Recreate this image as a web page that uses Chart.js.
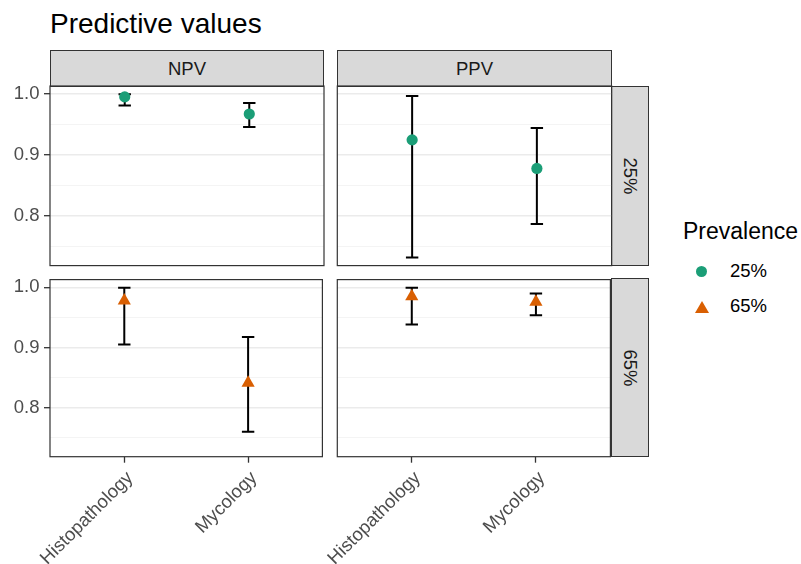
<!DOCTYPE html>
<html>
<head>
<meta charset="utf-8">
<script src="https://cdn.jsdelivr.net/npm/chart.js@4.4.1/dist/chart.umd.min.js"></script>
<style>
body { margin: 0; background: #fff; font-family: "Liberation Sans", Arial, sans-serif; }
#fig { position: relative; width: 801px; height: 564px; overflow: hidden; background: #fff; }
#fig canvas { position: absolute; }
.txt { position: absolute; white-space: nowrap; }
.strip { position: absolute; background: #D9D9D9; border: 1px solid #333; box-sizing: border-box;
  color: #1A1A1A; font-size: 18.5px; display: flex; align-items: center; justify-content: center; }
.strip.right span { transform: rotate(90deg); white-space: nowrap; }
</style>
</head>
<body>
<div id="fig">
  <div class="txt" style="left:50px; top:9.6px; font-size:28px; line-height:28px; color:#000;">Predictive values</div>

  <div class="strip" style="left:50px; top:50px; width:274px; height:37px;">NPV</div>
  <div class="strip" style="left:337px; top:50px; width:275px; height:37px;">PPV</div>
  <div class="strip right" style="left:611px; top:86px; width:38px; height:180px;"><span>25%</span></div>
  <div class="strip right" style="left:611px; top:278px; width:38px; height:179px;"><span>65%</span></div>

  <canvas id="npv25" width="330" height="192" style="left:0px; top:80px;"></canvas>
  <canvas id="ppv25" width="287" height="192" style="left:331px; top:80px;"></canvas>
  <canvas id="npv65" width="330" height="292" style="left:0px; top:272px;"></canvas>
  <canvas id="ppv65" width="418" height="292" style="left:200px; top:272px;"></canvas>

  <div class="txt" style="left:683px; top:219.5px; font-size:23px; line-height:23px; color:#000;">Prevalence</div>
  <div style="position:absolute; left:696.2px; top:265.5px; width:11px; height:11px; border-radius:50%; background:#1B9E77;"></div>
  <div class="txt" style="left:730px; top:262.4px; font-size:18.5px; line-height:18.5px; color:#000;">25%</div>
  <div style="position:absolute; left:694.7px; top:300.5px; width:0; height:0; border-left:7px solid transparent; border-right:7px solid transparent; border-bottom:12px solid #D95F02;"></div>
  <div class="txt" style="left:730px; top:297.4px; font-size:18.5px; line-height:18.5px; color:#000;">65%</div>
</div>

<script>
Chart.defaults.font.family = '"Liberation Sans", Arial, sans-serif'
Chart.defaults.font.size = 18.5
Chart.defaults.color = "#4D4D4D"

var categories = ["Histopathology", "Mycology"]
var yTicks = [0.75, 0.8, 0.85, 0.9, 0.95, 1.0]
var yMajor = [0.8, 0.9, 1.0]
var yMin = 0.7183
var yMax = 1.0129

// estimate, lower and upper limit per test
var npv25 = [0.995, 0.967]
var npv25Low = [0.981, 0.9455]
var npv25High = [0.9995, 0.985]
var ppv25 = [0.9245, 0.8777]
var ppv25Low = [0.7317, 0.7864]
var ppv25High = [0.9967, 0.9440]
var npv65 = [0.978, 0.841]
var npv65Low = [0.905, 0.7597]
var npv65High = [0.9995, 0.9175]
var ppv65 = [0.985, 0.9757]
var ppv65Low = [0.9384, 0.9536]
var ppv65High = [0.9995, 0.9897]

const colors = { "25%": "#1B9E77", "65%": "#D95F02" }

// whiskers drawn under the points
const errorBars = {
    id: "errorBars",
    beforeDatasetsDraw(chart, args, opts) {
        const {ctx, scales} = chart
        ctx.save()
        ctx.strokeStyle = "#000"
        ctx.lineWidth = 2
        for (let i = 0; i < opts.low.length; i++) {
            const x = scales.x.getPixelForValue(i + 1)
            const y1 = scales.y.getPixelForValue(opts.low[i])
            const y2 = scales.y.getPixelForValue(opts.high[i])
            ctx.beginPath()
            ctx.moveTo(x, y1); ctx.lineTo(x, y2)
            ctx.moveTo(x - 6.2, y1); ctx.lineTo(x + 6.2, y1)
            ctx.moveTo(x - 6.2, y2); ctx.lineTo(x + 6.2, y2)
            ctx.stroke()
        }
        ctx.restore()
    }
}

const panelBorder = {
    id: "panelBorder",
    afterDraw(chart) {
        const {ctx, chartArea} = chart
        ctx.save()
        ctx.strokeStyle = "#333333"
        ctx.lineWidth = 1.2
        ctx.strokeRect(chartArea.left, chartArea.top, chartArea.right - chartArea.left, chartArea.bottom - chartArea.top)
        ctx.restore()
    }
}

function renderPanel(canvasId, est, low, high, prev, showY, showX, padding) {
    const isTri = prev == "65%"
    new Chart(document.getElementById(canvasId), {
        type: "scatter",
        data: {
            datasets: [{
                data: est.map((v, i) => ({x: i + 1, y: v})),
                pointStyle: isTri ? "triangle" : "circle",
                pointRadius: isTri ? 7.6 : 5.6,
                backgroundColor: colors[prev],
                borderColor: colors[prev],
                borderWidth: 0
            }]
        },
        options: {
            responsive: false,
            animation: false,
            devicePixelRatio: 1,
            events: [],
            layout: { padding: padding },
            plugins: {
                legend: { display: false },
                tooltip: { enabled: false },
                errorBars: { low: low, high: high }
            },
            scales: {
                x: {
                    type: "linear",
                    display: showX,
                    min: 0.4,
                    max: 2.6,
                    afterBuildTicks: (scale) => { scale.ticks = [{value: 1}, {value: 2}] },
                    afterFit: (scale) => {
                        scale.height = showX ? 107.3 : 0
                        scale.paddingLeft = 0
                        scale.paddingRight = 0
                    },
                    ticks: {
                        autoSkip: false,
                        maxRotation: 45,
                        minRotation: 45,
                        padding: 4.5,
                        labelOffset: 6,
                        color: "#4D4D4D",
                        callback: (v) => categories[v - 1]
                    },
                    grid: {
                        drawOnChartArea: false,
                        drawTicks: true,
                        tickLength: 6,
                        tickColor: "#333333",
                        tickWidth: 1.3
                    },
                    border: { display: false }
                },
                y: {
                    min: yMin,
                    max: yMax,
                    afterBuildTicks: (scale) => { scale.ticks = yTicks.map(v => ({value: v})) },
                    afterFit: (scale) => {
                        scale.width = showY ? 50 : 0
                        scale.paddingTop = 0
                        scale.paddingBottom = 0
                    },
                    ticks: {
                        display: showY,
                        autoSkip: false,
                        padding: 4.5,
                        color: "#4D4D4D",
                        callback: (v) => yMajor.includes(v) ? v.toFixed(1) : ""
                    },
                    grid: {
                        drawTicks: showY,
                        tickLength: 6,
                        color: (c) => yMajor.includes(c.tick.value) ? "#EBEBEB" : "#F1F1F1",
                        lineWidth: (c) => yMajor.includes(c.tick.value) ? 1.4 : 0.8,
                        tickColor: (c) => yMajor.includes(c.tick.value) ? "#333333" : "rgba(0,0,0,0)",
                        tickWidth: 1.3
                    },
                    border: { display: false }
                }
            }
        },
        plugins: [errorBars, panelBorder]
    })
}

renderPanel("npv25", npv25, npv25Low, npv25High, "25%", true, false, {top: 6, right: 6, bottom: 6.4, left: 0})
renderPanel("ppv25", ppv25, ppv25Low, ppv25High, "25%", false, false, {top: 6, right: 6.3, bottom: 6.4, left: 6.3})
renderPanel("npv65", npv65, npv65Low, npv65High, "65%", true, true, {top: 6.3, right: 6, bottom: 0, left: 0})
renderPanel("ppv65", ppv65, ppv65Low, ppv65High, "65%", false, true, {top: 6.3, right: 6.3, bottom: 0, left: 137.3})
</script>
</body>
</html>
